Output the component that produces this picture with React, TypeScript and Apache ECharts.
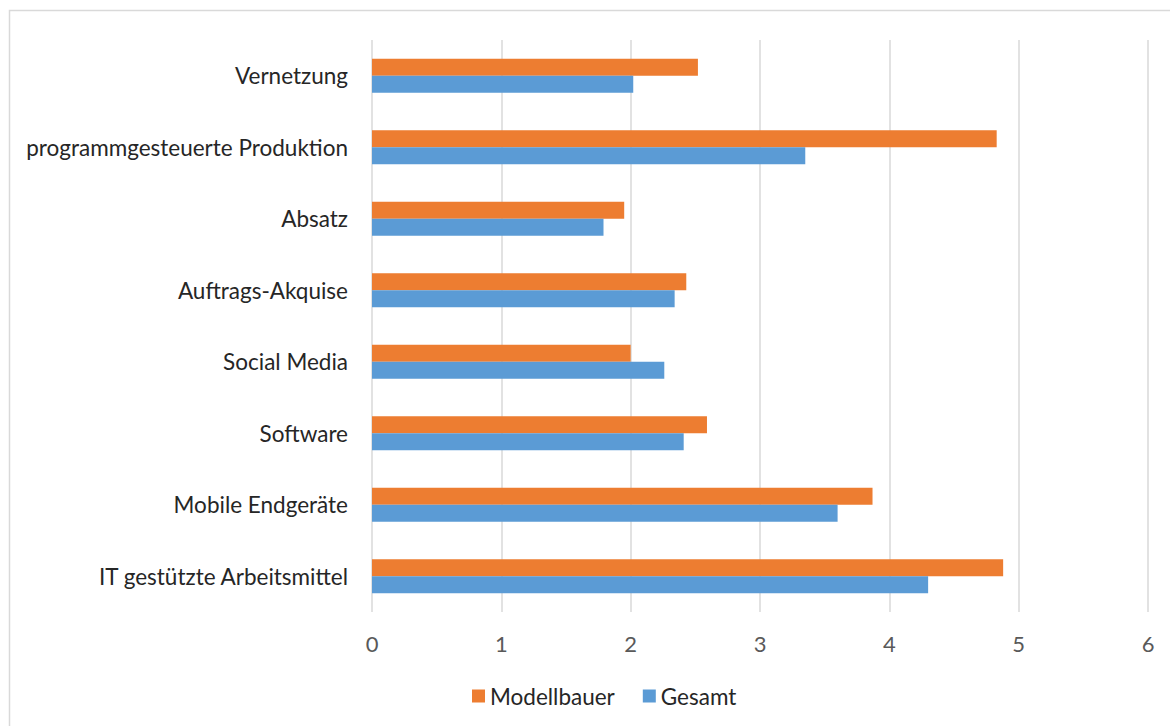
import React, { useEffect, useRef } from "react";
import * as echarts from "echarts";

const categories = [
  "Vernetzung",
  "programmgesteuerte Produktion",
  "Absatz",
  "Auftrags-Akquise",
  "Social Media",
  "Software",
  "Mobile Endgeräte",
  "IT gestützte Arbeitsmittel",
];
const modellbauer = [2.52, 4.83, 1.95, 2.43, 2.0, 2.59, 3.87, 4.88];
const gesamt = [2.02, 3.35, 1.79, 2.34, 2.26, 2.41, 3.6, 4.3];
const xTicks = { min: 0, max: 6, interval: 1 };

const FONT = "Lato, 'Open Sans', sans-serif";

export default function App() {
  const ref = useRef<HTMLDivElement>(null);
  useEffect(() => {
    document.body.style.margin = "0";
    if (!ref.current) return;
    const chart = echarts.init(ref.current, undefined, { renderer: "svg" });
    chart.setOption({
      animation: false,
      backgroundColor: "#ffffff",
      textStyle: { fontFamily: FONT },
      graphic: [
        {
          type: "rect",
          shape: { x: 9.5, y: 10.5, width: 1200, height: 800 },
          style: { fill: "none", stroke: "#d9d9d9", lineWidth: 1.5 },
          silent: true,
        },
      ],
      grid: { left: 372, right: 22, top: 40, bottom: 114, containLabel: false },
      legend: {
        data: ["Modellbauer", "Gesamt"],
        left: 467,
        top: 679,
        icon: "rect",
        itemWidth: 13,
        itemHeight: 13,
        itemGap: 28,
        textStyle: { fontFamily: FONT, fontSize: 22.5, color: "#262626", lineHeight: 24 },
      },
      xAxis: {
        type: "value",
        min: xTicks.min,
        max: xTicks.max,
        interval: xTicks.interval,
        axisLine: { show: false },
        axisTick: { show: false },
        splitLine: { show: true, lineStyle: { color: "#d9d9d9", width: 1.5 } },
        axisLabel: { fontFamily: FONT, fontSize: 22, color: "#595959", margin: 20 },
      },
      yAxis: {
        type: "category",
        data: categories,
        inverse: true,
        axisLine: { show: false },
        axisTick: { show: false },
        splitLine: { show: false },
        axisLabel: { fontFamily: FONT, fontSize: 22.5, color: "#262626", margin: 24 },
      },
      series: [
        {
          name: "Modellbauer",
          type: "bar",
          data: modellbauer,
          itemStyle: { color: "#ED7D31" },
          barGap: "0%",
          barCategoryGap: "52.5%",
        },
        {
          name: "Gesamt",
          type: "bar",
          data: gesamt,
          itemStyle: { color: "#5B9BD5" },
          barGap: "0%",
          barCategoryGap: "52.5%",
        },
      ],
    });
    return () => chart.dispose();
  }, []);
  return <div ref={ref} style={{ width: 1170, height: 726 }} />;
}
